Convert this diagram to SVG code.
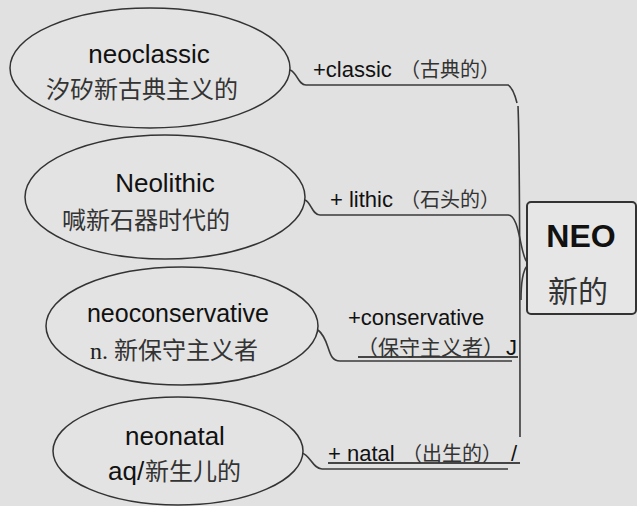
<svg xmlns="http://www.w3.org/2000/svg" width="637" height="506" viewBox="0 0 637 506">
<style>
.bg{fill:#e1e1e1}
.ell{fill:#e3e3e3;stroke:#333;stroke-width:1.5}
.en{font-family:"Liberation Sans",Arial,sans-serif;fill:#111}
.zh{font-family:"Noto Sans CJK SC",sans-serif;fill:#333}
.node{font-size:26px;text-anchor:middle}
.nzh{font-size:24px;text-anchor:middle}
.lab{font-size:22px}
.lzh{font-size:20px}
.con{fill:none;stroke:#3a3a3a;stroke-width:1.6}
.ul{stroke:#111;stroke-width:1.6}
</style>
<rect class="bg" x="0" y="0" width="637" height="506"/>
<g id="connectors">
<path class="con" d="M290,70 C297,72 298,85 306,85 L508,85 C512,87 515,95 517,103"/>
<path class="con" d="M518,106 C520,150 520,300 520,437"/>
<path class="con" d="M305,200 C311,202 312,215 320,215 L508,215 C520,215 520,255 527,262"/>
<path class="con" d="M527,266 C522,272 521,285 521,300"/>
<path class="con" d="M318,330 C331,340 326,361 340,361 L512,361"/>
<path class="con" d="M302,453 C310,455 313,469 322,469 L508,469"/>
<line class="ul" x1="358" y1="357" x2="518" y2="357"/>
<line class="ul" x1="328" y1="463" x2="520" y2="463"/>
</g>
<g id="neoclassic">
<ellipse class="ell" cx="150" cy="68" rx="140" ry="60"/>
<text class="en node" x="149" y="63">neoclassic</text>
<text class="zh nzh" x="142" y="98">汐矽新古典主义的</text>
</g>
<g id="neolithic">
<ellipse class="ell" cx="165" cy="197" rx="140" ry="62"/>
<text class="en node" x="165" y="192">Neolithic</text>
<text class="zh nzh" x="146" y="229">喊新石器时代的</text>
</g>
<g id="neoconservative">
<ellipse class="ell" cx="182" cy="326" rx="136" ry="59"/>
<text class="en node" x="178" y="322" style="font-size:25px">neoconservative</text>
<text x="90" y="359" style="font-family:'Liberation Serif',serif;font-size:24px;fill:#222">n.</text>
<text class="zh" x="114" y="359" style="font-size:24px">新保守主义者</text>
</g>
<g id="neonatal">
<ellipse class="ell" cx="178" cy="451" rx="125" ry="54"/>
<text class="en node" x="175" y="445">neonatal</text>
<text class="en" x="108" y="480" style="font-size:26px">aq/</text>
<text class="zh" x="145" y="480" style="font-size:24px">新生儿的</text>
</g>
<g id="neo">
<rect x="527" y="202" width="109" height="112" rx="4" fill="#e6e6e6" stroke="#333" stroke-width="2"/>
<text class="en" x="581" y="247" text-anchor="middle" style="font-size:32px;font-weight:bold">NEO</text>
<text class="zh" x="578" y="302" text-anchor="middle" style="font-size:30px">新的</text>
</g>
<g id="labels">
<text class="en lab" x="313" y="77">+classic</text>
<text class="zh lzh" x="400" y="77">（古典的）</text>
<text class="en lab" x="330" y="207">+ lithic</text>
<text class="zh lzh" x="400" y="207">（石头的）</text>
<text class="en lab" x="348" y="325">+conservative</text>
<text class="zh" x="357" y="355" style="font-size:21px">（保守主义者）</text>
<text class="en lab" x="506" y="355">J</text>
<text class="en lab" x="328" y="461">+ natal</text>
<text class="zh lzh" x="402" y="461">（出生的）</text>
<text class="en lab" x="511" y="461">/</text>
</g>
</svg>
